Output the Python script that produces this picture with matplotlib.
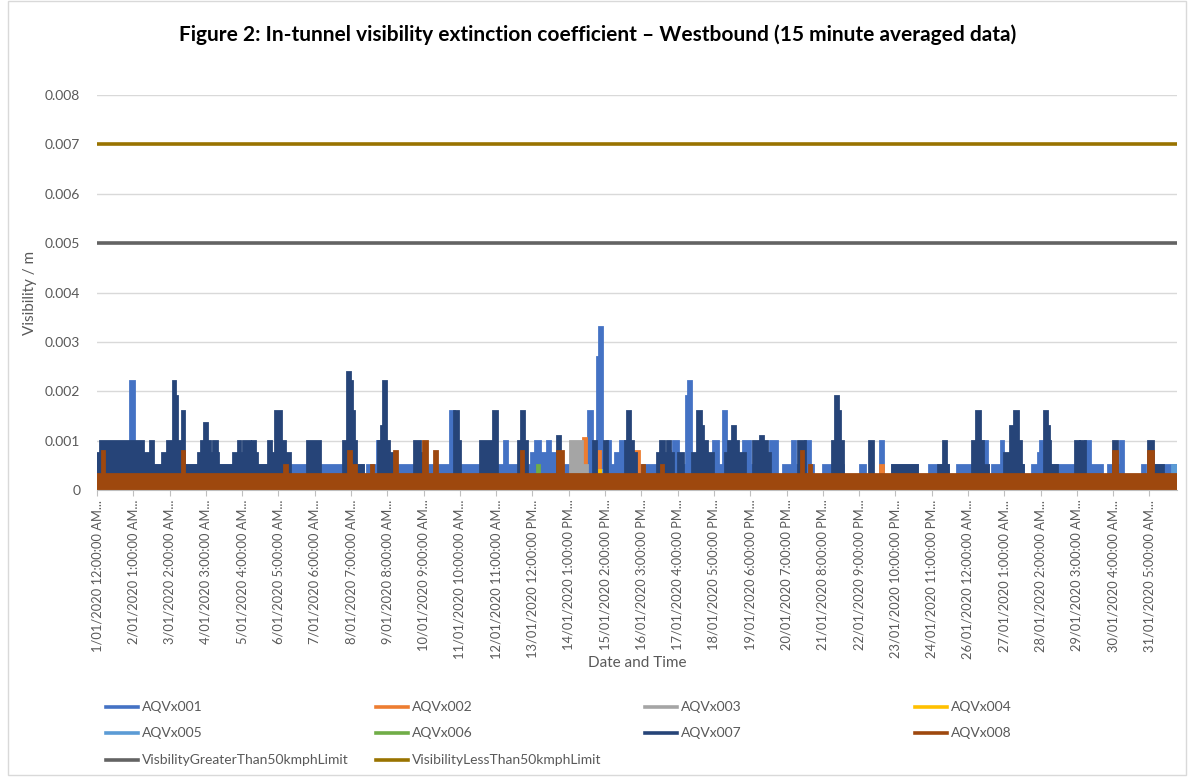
import matplotlib
matplotlib.use('Agg')
import matplotlib.pyplot as plt
from matplotlib.lines import Line2D
from matplotlib.patches import Rectangle

# ---------------------------------------------------------------------------
# Data: step readings (hours since 1/01/2020 00:00, value)
# each value holds until the next change point; series ends at hour 744
# ---------------------------------------------------------------------------
END_HOUR = 744

aqv001_t = [0, 22.75, 25.5, 183.25, 186, 193, 194.25, 243.25, 246, 280.5, 282.5, 299, 301.75,
            305.25, 310, 312, 317, 338.25, 341, 344.5, 345.75, 348, 351.25, 353.5, 356.75,
            360.25, 363, 396.75, 400.25, 405.75, 407, 409.25, 424.5, 427.75, 431.25, 433.25,
            445, 449.75, 463.5, 468.5, 472.5, 478.75, 481, 487.75, 491.25, 493.25, 500, 514,
            525.5, 529, 539.5, 541.5, 547.75, 565, 573.25, 586.25, 592.5, 610.5, 613, 613.75,
            616.5, 622.75, 624, 638, 644, 648.25, 649.5, 651, 680.5, 684, 692.25, 696.5,
            704.75, 706.75, 720, 722, 724]
aqv001_v = [0.0005, 0.0022, 0.0005, 0.0003, 0.0005, 0.001, 0.0005, 0.0016, 0.0005, 0.001, 0.0005,
            0.00075, 0.001, 0.00075, 0.001, 0.00075, 0.0005, 0.0016, 0.0005, 0.0027, 0.0033,
            0.0005, 0.001, 0.0005, 0.00075, 0.001, 0.0005, 0.001, 0.0005, 0.0019, 0.0022,
            0.0005, 0.001, 0.0005, 0.0016, 0.0005, 0.001, 0.0005, 0.001, 0.0003, 0.0005,
            0.001, 0.0005, 0.001, 0.0005, 0.0003, 0.0005, 0.0003, 0.0005, 0.0003, 0.001,
            0.0003, 0.0005, 0.0003, 0.0005, 0.0003, 0.0005, 0.001, 0.0005, 0.0003, 0.0005,
            0.001, 0.0005, 0.0003, 0.0005, 0.00075, 0.001, 0.0005, 0.001, 0.0005, 0.0003,
            0.0005, 0.001, 0.0003, 0.0005, 0.0003, 0.0005]

aqv002_t = [0, 334.75, 337, 345, 346.5, 370.5, 373.5, 393.25, 394.75, 539.5, 541.5]
aqv002_v = [0.0003, 0.00105, 0.0003, 0.0008, 0.0003, 0.0008, 0.0003, 0.0008, 0.0003, 0.0005, 0.0003]

aqv003_t = [0, 325.75, 334, 337.5]
aqv003_v = [0.0003, 0.001, 0.0005, 0.0003]

aqv004_t = [0, 345.75, 347.25]
aqv004_v = [0.0003, 0.0004, 0.0003]

aqv005_t = [0, 348.5, 350, 740.5]
aqv005_v = [0.0003, 0.0004, 0.0003, 0.0005]

aqv006_t = [0, 303, 304.5]
aqv006_v = [0.0003, 0.0005, 0.0003]

aqv007_t = [0, 2, 31.75, 36.5, 38.5, 44.75, 48.25, 52.5, 53.75, 55, 58.5, 60, 69.5, 71.5, 73.75,
            75.75, 77.75, 80, 82.75, 83.5, 93.75, 97, 98.5, 100.5, 105.5, 106.75, 108.75,
            110.25, 117.75, 120, 122.5, 126.75, 129.5, 133, 144.75, 153.5, 169.5, 172.25,
            174.25, 175.75, 177, 178.5, 183.25, 193.5, 195.5, 197, 199, 201.25, 203.25, 218.5,
            222.5, 224.5, 246, 248.75, 250, 263.75, 272.75, 275.5, 290, 292, 294.25, 296.25,
            317, 319, 341.75, 343.75, 349.25, 351.25, 363.75, 365, 367.25, 369.25, 371.25,
            385.75, 387.75, 390.5, 392.5, 394.75, 396.75, 400.25, 403.75, 410, 413.25, 416,
            417.5, 420.25, 424.5, 432.5, 434.75, 437.5, 439.5, 441.5, 446.5, 452, 455.5,
            456.75, 458.75, 461.5, 463.5, 483, 487.75, 506.25, 508.5, 510.5, 512, 514, 531.75,
            534.5, 547.75, 565, 579.5, 582.75, 585, 586.25, 602.75, 605.5, 608.25, 610.5,
            613.75, 624.75, 629, 631.75, 634.5, 636.5, 638, 652.5, 654.5, 655.75, 656.5,
            661.25, 673.75, 676.5, 677.25, 680.5, 700, 702.75, 724, 727.5, 734.5]
aqv007_v = [0.00075, 0.001, 0.00075, 0.001, 0.0005, 0.00075, 0.001, 0.0022, 0.0019, 0.001, 0.0016,
            0.0005, 0.00075, 0.001, 0.00135, 0.001, 0.00075, 0.001, 0.00075, 0.0005, 0.00075,
            0.001, 0.00075, 0.001, 0.00075, 0.001, 0.00075, 0.0005, 0.001, 0.00075, 0.0016,
            0.001, 0.00075, 0.0003, 0.001, 0.0003, 0.001, 0.0024, 0.0022, 0.0016, 0.001,
            0.0005, 0.0003, 0.001, 0.0013, 0.0022, 0.001, 0.00075, 0.0003, 0.001, 0.00075,
            0.0003, 0.0016, 0.001, 0.0003, 0.001, 0.0016, 0.0003, 0.001, 0.0016, 0.001, 0.0003,
            0.0011, 0.0003, 0.001, 0.0003, 0.001, 0.0003, 0.001, 0.0016, 0.001, 0.00075,
            0.0003, 0.00075, 0.001, 0.00075, 0.001, 0.00075, 0.0003, 0.00075, 0.0003, 0.00075,
            0.0016, 0.0013, 0.001, 0.00075, 0.0003, 0.00075, 0.001, 0.0013, 0.001, 0.00075,
            0.0003, 0.001, 0.00075, 0.0011, 0.001, 0.00075, 0.0003, 0.001, 0.0003, 0.001,
            0.0019, 0.0016, 0.001, 0.0003, 0.001, 0.0003, 0.0005, 0.0003, 0.0005, 0.001,
            0.0005, 0.0003, 0.001, 0.0016, 0.001, 0.0005, 0.0003, 0.00075, 0.0013, 0.0016,
            0.001, 0.0005, 0.0003, 0.0016, 0.0013, 0.001, 0.0005, 0.0003, 0.001, 0.0005,
            0.001, 0.0003, 0.001, 0.0003, 0.001, 0.0005, 0.0003]

aqv008_t = [0, 3.5, 4.75, 58.5, 60, 128.75, 131, 173, 175, 176.5, 178.5, 188.75, 190, 204.5,
            206.75, 224.5, 227.25, 232.25, 234.25, 292, 293.5, 317, 321, 375.5, 376.75, 388.5,
            390, 485, 486.5, 490.5, 492, 700, 702.75, 724, 727.5]
aqv008_v = [0.00033, 0.0008, 0.00033, 0.0008, 0.00033, 0.0005, 0.00033, 0.0008, 0.00033, 0.0005,
            0.00033, 0.0005, 0.00033, 0.0008, 0.00033, 0.001, 0.00033, 0.0008, 0.00033, 0.0008,
            0.00033, 0.0008, 0.00033, 0.0005, 0.00033, 0.0005, 0.00033, 0.0008, 0.00033,
            0.0005, 0.00033, 0.0008, 0.00033, 0.0008, 0.00033]

limit_greater = 0.005
limit_less = 0.007

series_names = ['AQVx001', 'AQVx002', 'AQVx003', 'AQVx004', 'AQVx005', 'AQVx006',
                'AQVx007', 'AQVx008', 'VisbilityGreaterThan50kmphLimit',
                'VisibilityLessThan50kmphLimit']

tick_hours = [0, 25, 50, 75, 100, 125, 150, 175, 200, 225, 250, 275, 300, 325, 350,
              375, 400, 425, 450, 475, 500, 525, 550, 575, 600, 625, 650, 675, 700, 725]
tick_labels = ['1/01/2020 12:00:00 AM...', '2/01/2020 1:00:00 AM...', '3/01/2020 2:00:00 AM...',
               '4/01/2020 3:00:00 AM...', '5/01/2020 4:00:00 AM...', '6/01/2020 5:00:00 AM...',
               '7/01/2020 6:00:00 AM...', '8/01/2020 7:00:00 AM...', '9/01/2020 8:00:00 AM...',
               '10/01/2020 9:00:00 AM...', '11/01/2020 10:00:00 AM...', '12/01/2020 11:00:00 AM...',
               '13/01/2020 12:00:00 PM...', '14/01/2020 1:00:00 PM...', '15/01/2020 2:00:00 PM...',
               '16/01/2020 3:00:00 PM...', '17/01/2020 4:00:00 PM...', '18/01/2020 5:00:00 PM...',
               '19/01/2020 6:00:00 PM...', '20/01/2020 7:00:00 PM...', '21/01/2020 8:00:00 PM...',
               '22/01/2020 9:00:00 PM...', '23/01/2020 10:00:00 PM...', '24/01/2020 11:00:00 PM...',
               '26/01/2020 12:00:00 AM...', '27/01/2020 1:00:00 AM...', '28/01/2020 2:00:00 AM...',
               '29/01/2020 3:00:00 AM...', '30/01/2020 4:00:00 AM...', '31/01/2020 5:00:00 AM...']

COLORS = ['#4472C4', '#ED7D31', '#A5A5A5', '#FFC000', '#5B9BD5', '#70AD47',
          '#264478', '#9E480E', '#636363', '#997300']
TEXT = '#595959'
GRID = '#D9D9D9'

plt.rcParams['font.family'] = ['Lato', 'DejaVu Sans']

fig = plt.figure(figsize=(11.94, 7.78), dpi=100)
ax = fig.add_axes([97 / 1194, 1 - 490 / 778, (1177 - 97) / 1194, (490 - 95) / 778])

steps = [(aqv001_t, aqv001_v), (aqv002_t, aqv002_v), (aqv003_t, aqv003_v),
         (aqv004_t, aqv004_v), (aqv005_t, aqv005_v), (aqv006_t, aqv006_v),
         (aqv007_t, aqv007_v), (aqv008_t, aqv008_v)]

# dense 15-min data renders as solid blocks in the original, so fill under each step line
for (t, v), c in zip(steps, COLORS[:8]):
    tt = list(t) + [END_HOUR]
    vv = list(v) + [v[-1]]
    ax.fill_between(tt, 0, vv, step='post', color=c, lw=0, zorder=2)
    ax.step(tt, vv, where='post', color=c, lw=2.0, zorder=2, solid_joinstyle='miter')

ax.plot([0, END_HOUR], [limit_greater, limit_greater], color=COLORS[8], lw=2.6, zorder=3)
ax.plot([0, END_HOUR], [limit_less, limit_less], color=COLORS[9], lw=2.6, zorder=3)

ax.set_xlim(0, END_HOUR)
ax.set_ylim(0, 0.008)
ax.set_yticks([i * 0.001 for i in range(9)])
ax.set_yticklabels(['0'] + [f'{i * 0.001:.3f}' for i in range(1, 9)])
ax.set_xticks(tick_hours)
ax.set_xticklabels(tick_labels, rotation=90, va='top', ha='center')
ax.tick_params(axis='y', length=0, pad=12, labelsize=10, labelcolor=TEXT)
ax.tick_params(axis='x', length=4, width=0.8, color='#BFBFBF', pad=3, labelsize=9.3,
               labelcolor=TEXT)
ax.grid(axis='y', color=GRID, lw=1, zorder=0)
for s in ('top', 'right', 'left'):
    ax.spines[s].set_visible(False)
ax.spines['bottom'].set_color('#BFBFBF')

ax.set_ylabel('Visibility / m', fontsize=11, color=TEXT)
ax.yaxis.set_label_coords(-60 / 1080, 0.5)
fig.text(637 / 1194, 1 - 663 / 778, 'Date and Time', fontsize=11, color=TEXT,
         ha='center', va='center')
fig.text(598 / 1194, 1 - 35 / 778,
         'Figure 2: In-tunnel visibility extinction coefficient \u2013 Westbound (15 minute averaged data)',
         fontsize=15, fontweight='bold', color='black', ha='center', va='center')

# legend: 4 equal columns like Excel
col_x = [106, 376, 645, 915]
row_y = [707, 733, 760]
for i, (name, c) in enumerate(zip(series_names, COLORS)):
    r, k = divmod(i, 4)
    x0 = col_x[k]
    y0 = 1 - row_y[r] / 778
    fig.add_artist(Line2D([x0 / 1194, (x0 + 32) / 1194], [y0, y0], color=c, lw=2.6))
    fig.text((x0 + 36) / 1194, y0, name, fontsize=10, color=TEXT, ha='left', va='center')

fig.add_artist(Rectangle((8 / 1194, 3 / 778), 1178 / 1194, 1 - 4 / 778, fill=False,
                         edgecolor=GRID, lw=1))

fig.savefig('out.png', dpi=100)
